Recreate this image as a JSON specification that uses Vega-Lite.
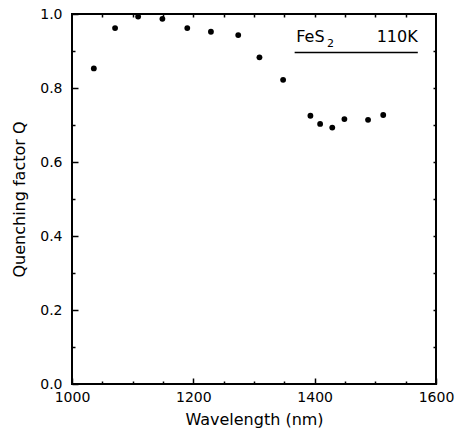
{
  "$schema": "https://vega.github.io/schema/vega-lite/v6.json",
  "width": 364,
  "height": 370,
  "autosize": {"type": "none"},
  "padding": {"left": 72, "top": 14, "right": 20, "bottom": 56},
  "background": "white",
  "config": {
    "view": {"stroke": "black", "strokeWidth": 2},
    "font": "DejaVu Sans",
    "axis": {"grid": false, "domain": false, "labelFlush": false, "tickColor": "black", "labelColor": "black", "titleColor": "black", "labelFont": "DejaVu Sans", "titleFont": "DejaVu Sans", "labelFontSize": 14, "titleFontSize": 16, "titleFontWeight": "normal", "tickWidth": 1.5}
  },
  "datasets": {
    "q": [
      {"wavelength": 1036, "Q": 0.853},
      {"wavelength": 1071, "Q": 0.962},
      {"wavelength": 1109, "Q": 0.993},
      {"wavelength": 1149, "Q": 0.987},
      {"wavelength": 1190, "Q": 0.962},
      {"wavelength": 1229, "Q": 0.952},
      {"wavelength": 1274, "Q": 0.943},
      {"wavelength": 1309, "Q": 0.883},
      {"wavelength": 1348, "Q": 0.822},
      {"wavelength": 1393, "Q": 0.725},
      {"wavelength": 1409, "Q": 0.703},
      {"wavelength": 1429, "Q": 0.693},
      {"wavelength": 1449, "Q": 0.716},
      {"wavelength": 1488, "Q": 0.714},
      {"wavelength": 1513, "Q": 0.727}
    ],
    "labels": [
      {"wavelength": 1393, "Q": 0.924, "text": "FeS", "size": 16},
      {"wavelength": 1426, "Q": 0.911, "text": "2", "size": 11},
      {"wavelength": 1536, "Q": 0.924, "text": "110K", "size": 16}
    ],
    "underline": [
      {"wavelength": 1367, "wavelength2": 1570, "Q": 0.896}
    ]
  },
  "layer": [
    {
      "data": {"name": "q"},
      "mark": {"type": "point", "filled": true, "color": "black", "size": 34, "opacity": 1},
      "encoding": {
        "x": {"field": "wavelength", "type": "quantitative", "scale": {"domain": [1000, 1600], "nice": false, "zero": false},
          "axis": {"orient": "bottom", "values": [1000, 1200, 1400, 1600], "format": "d", "offset": -6, "tickSize": 6, "labelPadding": 6, "title": "Wavelength (nm)", "titlePadding": 7}},
        "y": {"field": "Q", "type": "quantitative", "scale": {"domain": [0, 1], "nice": false},
          "axis": {"orient": "left", "values": [0, 0.2, 0.4, 0.6, 0.8, 1.0], "format": ".1f", "offset": -6, "tickSize": 6, "labelPadding": 10, "title": "Quenching factor Q", "titlePadding": 12}}
      }
    },
    {
      "data": {"name": "q"},
      "mark": {"type": "point", "opacity": 0},
      "encoding": {
        "x": {"field": "wavelength", "type": "quantitative", "scale": {"domain": [1000, 1600], "nice": false, "zero": false},
          "axis": {"orient": "bottom", "values": [1050, 1100, 1150, 1250, 1300, 1350, 1450, 1500, 1550], "offset": -3, "tickSize": 3, "labels": false, "title": null}},
        "y": {"field": "Q", "type": "quantitative", "scale": {"domain": [0, 1], "nice": false},
          "axis": {"orient": "left", "values": [0.1, 0.3, 0.5, 0.7, 0.9], "offset": -3, "tickSize": 3, "labels": false, "title": null}}
      }
    },
    {
      "data": {"name": "q"},
      "mark": {"type": "point", "opacity": 0},
      "encoding": {
        "x": {"field": "wavelength", "type": "quantitative", "scale": {"domain": [1000, 1600], "nice": false, "zero": false},
          "axis": {"orient": "top", "values": [1050, 1100, 1150, 1200, 1250, 1300, 1350, 1400, 1450, 1500, 1550], "offset": -3, "tickSize": 3, "labels": false, "title": null}},
        "y": {"field": "Q", "type": "quantitative", "scale": {"domain": [0, 1], "nice": false},
          "axis": {"orient": "right", "values": [0.1, 0.2, 0.3, 0.4, 0.5, 0.6, 0.7, 0.8, 0.9], "offset": -3, "tickSize": 3, "labels": false, "title": null}}
      }
    },
    {
      "data": {"name": "labels"},
      "mark": {"type": "text", "font": "DejaVu Sans", "color": "black", "baseline": "alphabetic", "align": "center"},
      "encoding": {
        "x": {"field": "wavelength", "type": "quantitative", "scale": {"domain": [1000, 1600], "nice": false, "zero": false}, "axis": null},
        "y": {"field": "Q", "type": "quantitative", "scale": {"domain": [0, 1], "nice": false}, "axis": null},
        "text": {"field": "text"},
        "size": {"field": "size", "type": "quantitative", "scale": null}
      }
    },
    {
      "data": {"name": "underline"},
      "mark": {"type": "rule", "color": "black", "strokeWidth": 1.5},
      "encoding": {
        "x": {"field": "wavelength", "type": "quantitative", "scale": {"domain": [1000, 1600], "nice": false, "zero": false}, "axis": null},
        "x2": {"field": "wavelength2"},
        "y": {"field": "Q", "type": "quantitative", "scale": {"domain": [0, 1], "nice": false}, "axis": null}
      }
    }
  ],
  "resolve": {"axis": {"x": "independent", "y": "independent"}}
}
